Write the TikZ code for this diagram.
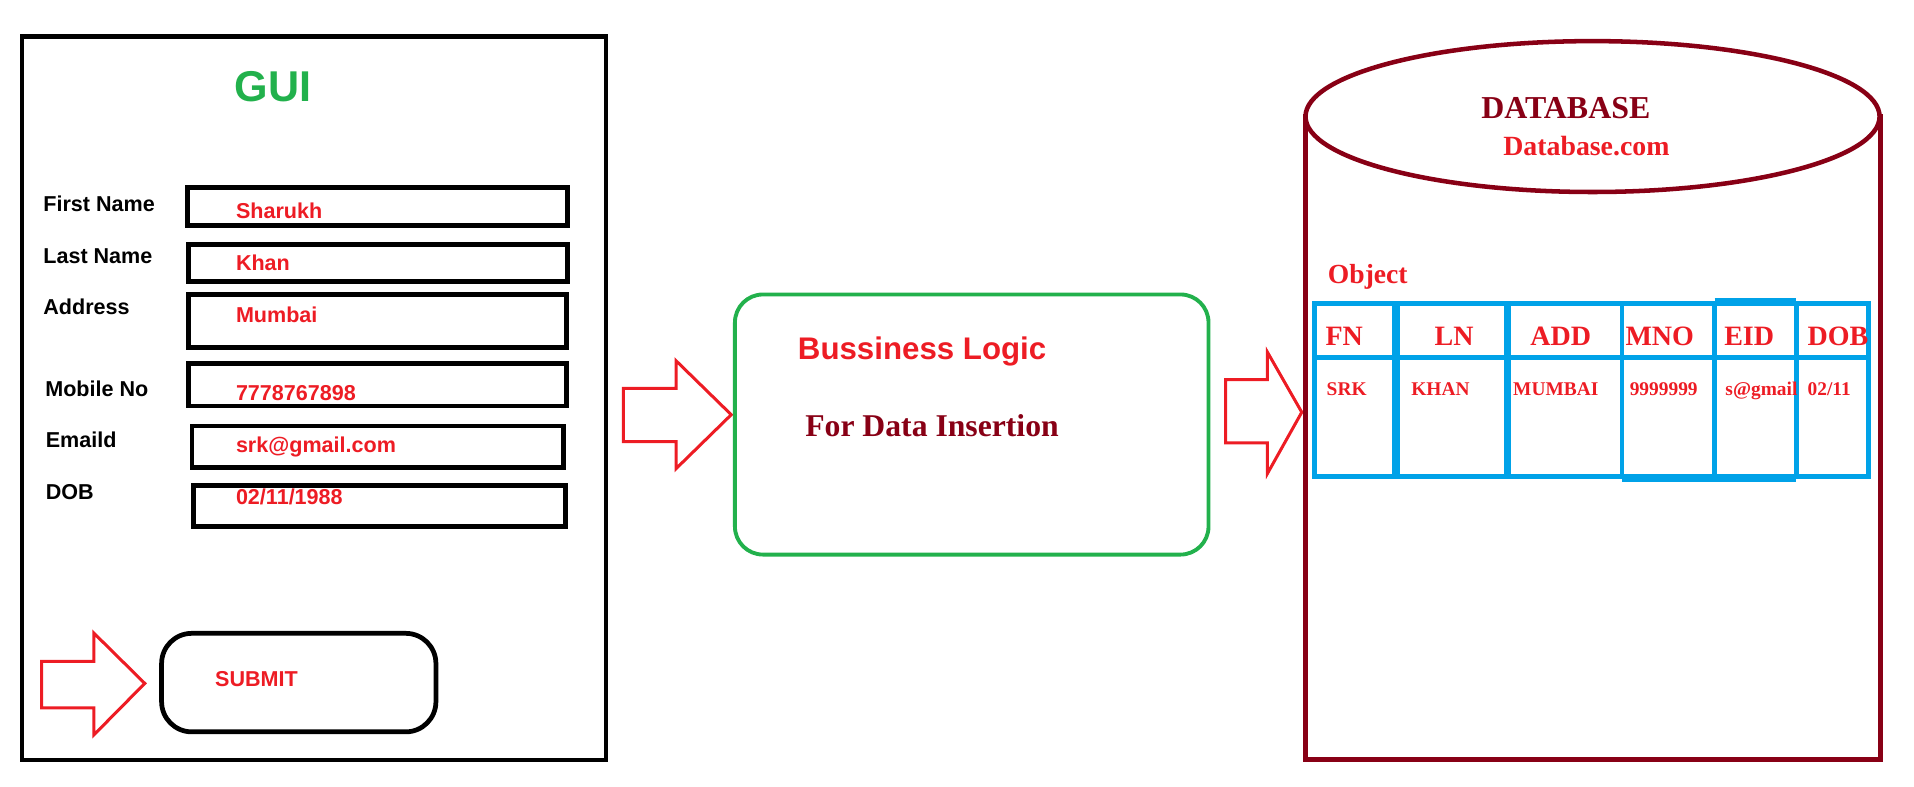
\documentclass[tikz,border=0pt]{standalone}
\usepackage{fontspec}
\setmainfont{Liberation Serif}
\newfontfamily\arialf{Liberation Sans}
\usetikzlibrary{fit,shapes.geometric}
\definecolor{pred}{RGB}{237,28,36}
\definecolor{pgreen}{RGB}{34,177,76}
\definecolor{pblue}{RGB}{0,162,232}
\definecolor{pdark}{RGB}{136,0,21}
\begin{document}
\begin{tikzpicture}[x=0.02cm,y=-0.02cm,
  bbox/.style={draw=black, line width=2.2pt, inner sep=0pt},
  txt/.style={anchor=base west, inner sep=0pt},
  lbl/.style={txt, font=\arialf\bfseries\fontsize{10}{12}\selectfont, text=black},
  val/.style={txt, font=\arialf\bfseries\fontsize{10}{12}\selectfont, text=pred},
  barrow/.style={draw=pred, line width=1.4pt, line join=miter},
  hdr/.style={txt, font=\bfseries\fontsize{13}{15}\selectfont, text=pred},
  dat/.style={txt, font=\bfseries\fontsize{9}{11}\selectfont, text=pred},
  tline/.style={draw=pblue, line width=2.3pt}
]
\useasboundingbox (0,0) rectangle (1560,641.4);

% ---------------- GUI ----------------
\node[bbox, fit={(18,30) (494,619.5)}] (gui) {};
\node[txt, font=\arialf\bfseries\fontsize{20}{24}\selectfont, text=pgreen] (guit) at (191,83) {GUI};

\node[bbox, fit={(153,152.7) (462.5,183.9)}] (f1) {};
\node[bbox, fit={(153.7,199.1) (462.5,229.6)}] (f2) {};
\node[bbox, fit={(153.7,239.9) (461.5,283.4)}] (f3) {};
\node[bbox, fit={(153.7,296.1) (461.5,330.9)}] (f4) {};
\node[bbox, fit={(156.4,347.2) (459.5,380.9)}] (f5) {};
\node[bbox, fit={(158,395.6) (461,429.2)}] (f6) {};

\node[lbl] (l1) at (35,172.5) {First Name};
\node[lbl] (l2) at (35,214.6) {Last Name};
\node[lbl] (l3) at (35,256.7) {Address};
\node[lbl] (l4) at (36.6,323) {Mobile No};
\node[lbl] (l5) at (37,365) {Emaild};
\node[lbl] (l6) at (37,407.5) {DOB};

\node[val] (v1) at (192,178) {Sharukh};
\node[val] (v2) at (192,220.6) {Khan};
\node[val] (v3) at (192,263) {Mumbai};
\node[val] (v4) at (192,326.5) {7778767898};
\node[val] (v5) at (192,369) {srk@gmail.com};
\node[val] (v6) at (192,411) {02/11/1988};

\node[bbox, rounded corners=14, fit={(131.7,516.2) (355.3,596.5)}] (submit) {};
\node[val] (submitt) at (175,559.6) {SUBMIT};

% submit arrow
\draw[barrow] (34,539) -- (76.5,539) -- (76.5,516) -- (118,557) -- (76.5,599) -- (76.5,577) -- (34,577) -- cycle;

% ---------------- Business logic ----------------
\draw[barrow] (508,316.5) -- (551,316.5) -- (551,294) -- (596,338) -- (551,382) -- (551,360) -- (508,360) -- cycle;

\node[draw=pgreen, line width=1.8pt, rounded corners=13, inner sep=0pt, fit={(599,240) (985,452)}] (logic) {};
\node[txt, font=\arialf\bfseries\fontsize{14.5}{17}\selectfont, text=pred] (logict) at (650,293.4) {Bussiness Logic};
\node[txt, font=\bfseries\fontsize{14.7}{17}\selectfont, text=pdark] (logicd) at (656,355.9) {For Data Insertion};

\draw[barrow] (999,309.5) -- (1033,309.5) -- (1033,287) -- (1061,336) -- (1033,386) -- (1033,361) -- (999,361) -- cycle;

% ---------------- Database ----------------
\draw[draw=pdark, line width=2.1pt] (1064,93) -- (1064,619) -- (1532.5,619) -- (1532.5,93);
\node[draw=pdark, line width=2.1pt, ellipse, inner sep=0pt, minimum width=9.36cm, minimum height=2.46cm] (db) at (1298,95) {};
\node[txt, font=\bfseries\fontsize{14.8}{17}\selectfont, text=pdark] (dbt) at (1207,96.4) {DATABASE};
\node[txt, font=\bfseries\fontsize{12.9}{15}\selectfont, text=pred] (dbc) at (1225,127) {Database.com};
\node[txt, font=\bfseries\fontsize{12.8}{15}\selectfont, text=pred] (obj) at (1082,231) {Object};

% table
\node[tline, inner sep=0pt, fit={(1071.5,247) (1523,388.5)}] (tbl) {};
\draw[tline] (1071.5,291) -- (1523,291);
\draw[tline, line width=3.6pt] (1137.5,246) -- (1137.5,389.5);
\draw[tline, line width=3.4pt] (1228.5,246) -- (1228.5,389.5);
\foreach \xx in {1322,1397.5,1464}{
  \draw[tline] (\xx,247) -- (\xx,388.5);
}
\draw[tline] (1322,391) -- (1464,391);
\draw[tline] (1397.5,245) -- (1464,245);

\node[hdr] (h1) at (1080,281.2) {FN};
\node[hdr] (h2) at (1169,281.2) {LN};
\node[hdr] (h3) at (1247,281.2) {ADD};
\node[hdr] (h4) at (1324.5,281.2) {MNO};
\node[hdr] (h5) at (1405,281.2) {EID};
\node[hdr] (h6) at (1473,281.2) {DOB};

\node[dat] (d1) at (1081,322.7) {SRK};
\node[dat] (d2) at (1150,322.7) {KHAN};
\node[dat] (d3) at (1233,322.7) {MUMBAI};
\node[dat] (d4) at (1328,322.7) {9999999};
\node[dat] (d5) at (1406,322.7) {s@gmail};
\node[dat] (d6) at (1473,322.7) {02/11};
\end{tikzpicture}
\end{document}
